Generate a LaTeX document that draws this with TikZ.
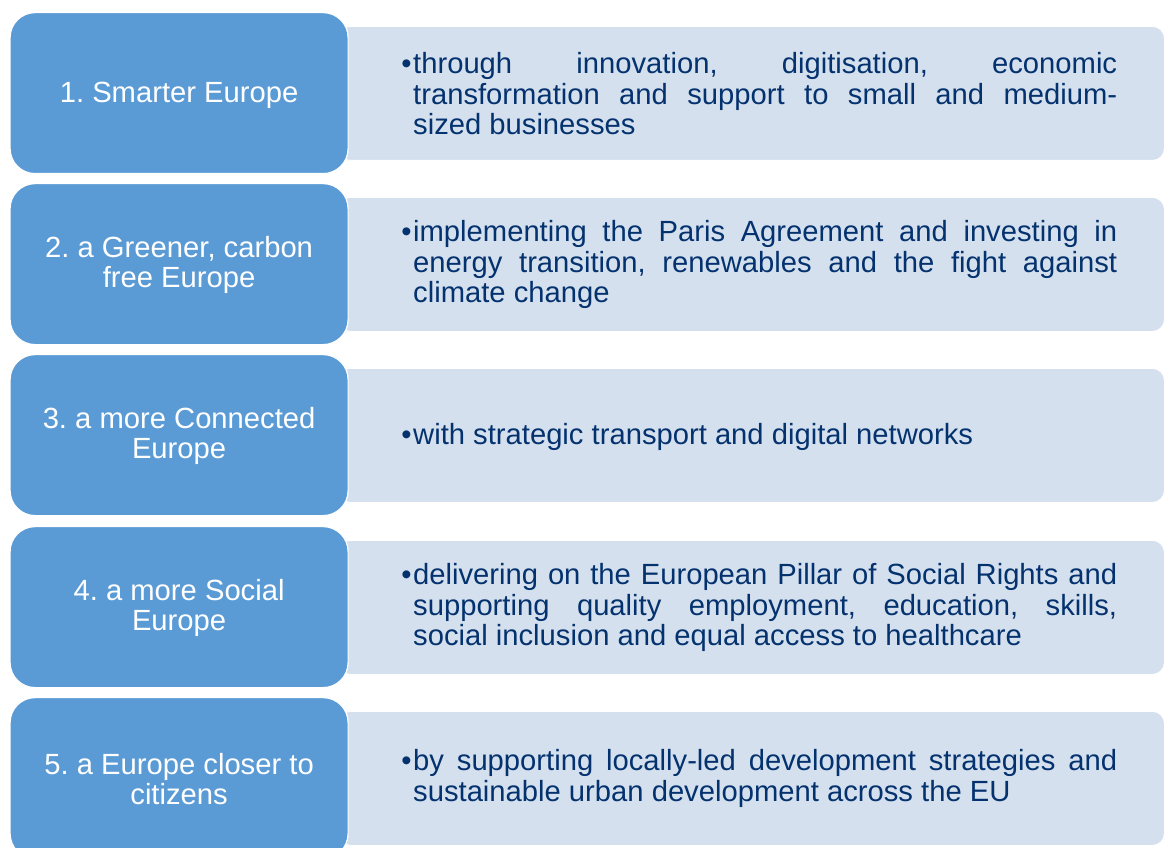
\documentclass[tikz,border=0pt]{standalone}
\usepackage{fontspec}
\setmainfont{Liberation Sans}
\frenchspacing
\definecolor{pillar}{HTML}{5B9BD5}
\definecolor{panel}{HTML}{D5E0EE}
\definecolor{ink}{RGB}{4,50,110}
\tikzset{
  pillarbox/.style={rectangle, rounded corners=25pt, fill=pillar, draw=white,
    line width=1.2pt, minimum width=338pt, minimum height=161pt,
    anchor=north west, inner sep=0pt},
  pillartext/.style={text=white, align=center, inner sep=0pt,
    font=\fontsize{29.2}{30.5}\selectfont},
  panelbox/.style={rectangle, rounded corners=12pt, fill=panel, draw=white,
    line width=0.8pt, minimum width=826pt, minimum height=134pt,
    anchor=north west, inner sep=0pt},
  desc/.style={anchor=west, inner sep=0pt, text=ink, align=left,
    font=\fontsize{29.2}{30.5}\selectfont},
}
% one justified line of the description, full column width
\newcommand{\fullline}[1]{\makebox[704pt][s]{#1}}
\newcommand{\bul}{\llap{•\hspace{1.5pt}}}
\begin{document}
\begin{tikzpicture}[x=1pt,y=-1pt]
\useasboundingbox (0,0) rectangle (1165,848);

% panels behind the pillar boxes
\node[panelbox] (p1) at (338,26) {};
\node[panelbox] (p2) at (338,197) {};
\node[panelbox] (p3) at (338,368) {};
\node[panelbox] (p4) at (338,540) {};
\node[panelbox] (p5) at (338,711) {};

% pillar boxes
\node[pillarbox] (b1) at (9.5,12)  {};
\node[pillarbox] (b2) at (9.5,183) {};
\node[pillarbox] (b3) at (9.5,354) {};
\node[pillarbox] (b4) at (9.5,526) {};
\node[pillarbox] (b5) at (9.5,697) {};

% pillar labels, white, centred in each box
\node[pillartext] (l1) at ([yshift=-2pt]b1.center) {1. Smarter Europe};
\node[pillartext] (l2) at ([yshift=-1pt]b2.center) {2. a Greener, carbon\\free Europe};
\node[pillartext] (l3) at ([yshift=-1pt]b3.center) {3. a more Connected\\Europe};
\node[pillartext] (l4) at ([yshift=-1pt]b4.center) {4. a more Social\\Europe};
\node[pillartext] (l5) at ([yshift=-1pt]b5.center) {5. a Europe closer to\\citizens};

% descriptions
\node[desc] (d1) at (413,94) {\bul\fullline{through innovation, digitisation, economic}\\
  \fullline{transformation and support to small and medium-}\\
  sized businesses};
\node[desc] (d2) at (413,264.5) {\bul\fullline{implementing the Paris Agreement and investing in}\\
  \fullline{energy transition, renewables and the fight against}\\
  climate change};
\node[desc] (d3) at (413,436.5) {\bul with strategic transport and digital networks};
\node[desc] (d4) at (413,607.5) {\bul\fullline{delivering on the European Pillar of Social Rights and}\\
  \fullline{supporting quality employment, education, skills,}\\
  social inclusion and equal access to healthcare};
\node[desc] (d5) at (413,778.5) {\bul\fullline{by supporting locally-led development strategies and}\\
  sustainable urban development across the EU};
\end{tikzpicture}
\end{document}
